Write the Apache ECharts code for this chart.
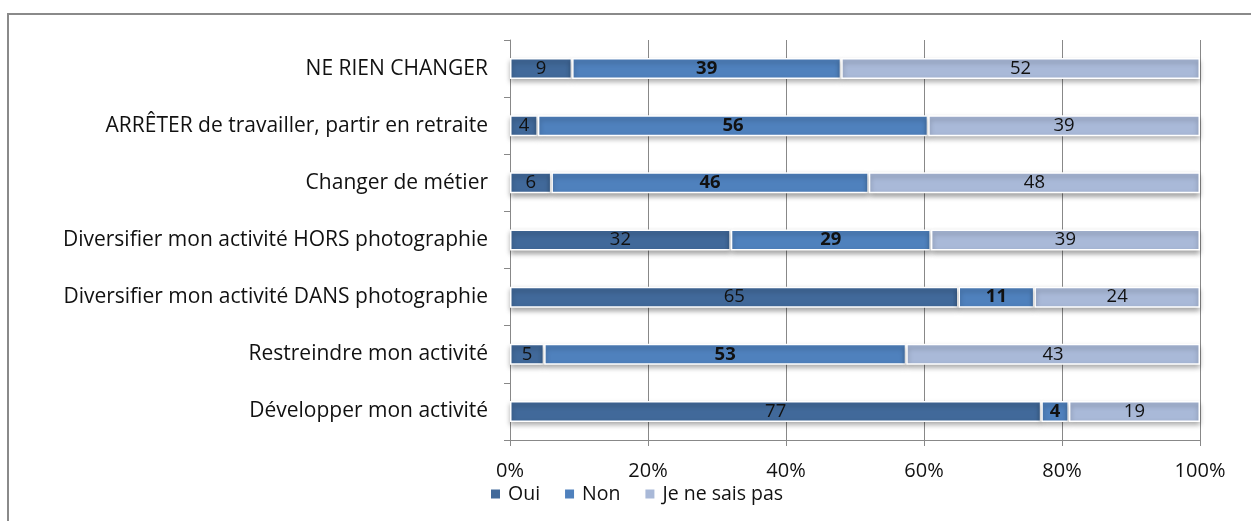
<!DOCTYPE html>
<html>
<head>
<meta charset="utf-8">
<script src="https://cdn.jsdelivr.net/npm/echarts@6/dist/echarts.min.js"></script>
<style>
html, body { margin: 0; padding: 0; background: #fff; }
#chart { width: 1251px; height: 521px; }
</style>
</head>
<body>
<div id="chart"></div>
<script>
// Survey answers per option (raw counts, shown as labels)
const categories = [
  'Développer mon activité',
  'Restreindre mon activité',
  'Diversifier mon activité DANS photographie',
  'Diversifier mon activité HORS photographie',
  'Changer de métier',
  'ARRÊTER de travailler, partir en retraite',
  'NE RIEN CHANGER'
];
const oui = [77, 5, 65, 32, 6, 4, 9];
const non = [4, 53, 11, 29, 46, 56, 39];
const nsp = [19, 43, 24, 39, 48, 39, 52];
const seriesNames = ['Oui', 'Non', 'Je ne sais pas'];
const tickLabels = ['0%', '20%', '40%', '60%', '80%', '100%'];

const colors = ['#41699A', '#4F81BD', '#A9B9D8'];
const raw = [oui, non, nsp];
// each row is shown as a share of its own total (100% stacked)
const totals = categories.map((_, i) => oui[i] + non[i] + nsp[i]);

const font = '"Open Sans", "Liberation Sans", sans-serif';

const series = raw.map((vals, s) => ({
  name: seriesNames[s],
  type: 'bar',
  stack: 'total',
  barWidth: 21,
  data: vals.map((v, i) => ({ value: v / totals[i] * 100, raw: v })),
  itemStyle: {
    color: colors[s],
    borderColor: '#ffffff',
    borderWidth: 1.5,
    shadowBlur: 5,
    shadowOffsetY: 3,
    shadowColor: 'rgba(0,0,0,0.35)'
  },
  label: {
    show: true,
    position: 'inside',
    color: '#111',
    fontFamily: font,
    fontSize: 18.5,
    fontWeight: s === 1 ? 'bold' : 'normal',
    formatter: p => String(p.data.raw)
  },
  emphasis: { disabled: true }
}));

const chart = echarts.init(document.getElementById('chart'));
chart.setOption({
  animation: false,
  backgroundColor: '#fff',
  graphic: [{
    type: 'rect',
    shape: { x: 8, y: 14, width: 1260, height: 530 },
    style: { fill: 'none', stroke: '#8A8A8A', lineWidth: 2 },
    silent: true
  }],
  grid: { left: 510, right: 51, top: 40, bottom: 81, containLabel: false },
  legend: {
    left: 484,
    top: 479,
    itemWidth: 11,
    itemHeight: 11,
    itemGap: 23,
    icon: 'rect',
    textStyle: { fontFamily: font, fontSize: 19.5, color: '#111', padding: [0, 0, 0, 2] },
    data: seriesNames
  },
  xAxis: {
    type: 'value',
    min: 0,
    max: 100,
    interval: 20,
    axisLine: { show: true, lineStyle: { color: '#888', width: 1 } },
    axisTick: { show: true, length: 6, lineStyle: { color: '#888' } },
    splitLine: { show: true, lineStyle: { color: '#888', width: 1 } },
    axisLabel: {
      fontFamily: font,
      fontSize: 20,
      color: '#111',
      margin: 21,
      formatter: v => tickLabels[v / 20]
    }
  },
  yAxis: {
    type: 'category',
    data: categories,
    axisLine: { show: true, lineStyle: { color: '#888', width: 1 } },
    axisTick: { show: true, length: 6, lineStyle: { color: '#888' } },
    axisLabel: { fontFamily: font, fontSize: 21, color: '#111', margin: 22 }
  },
  series
});
</script>
</body>
</html>
